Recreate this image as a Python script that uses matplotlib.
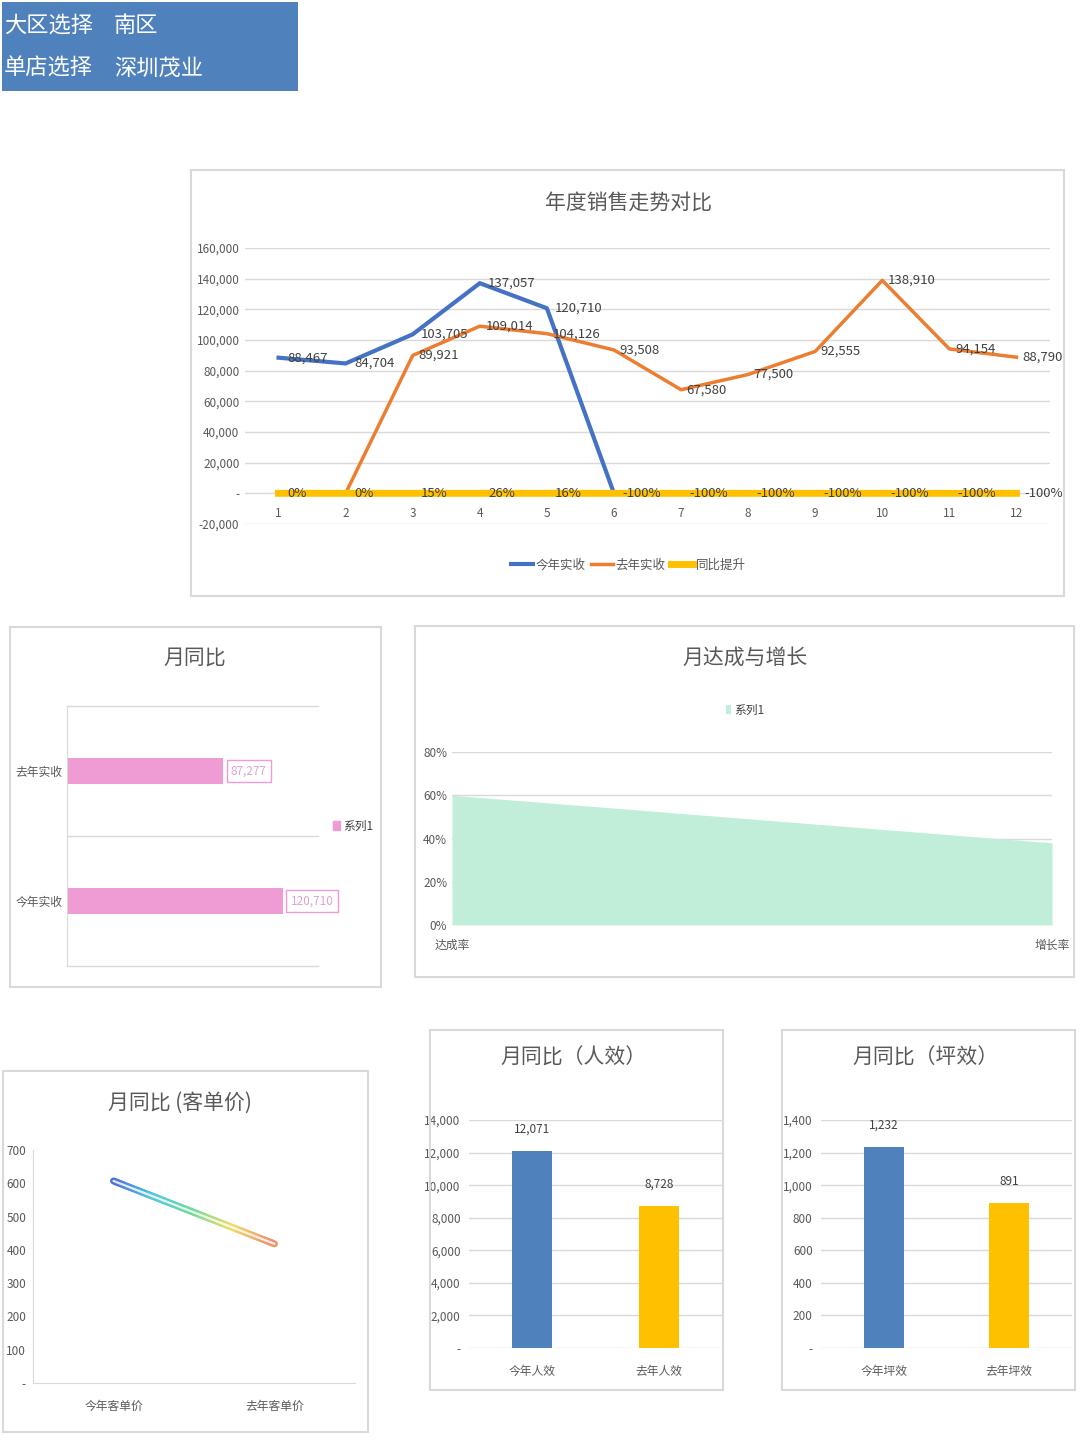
import numpy as np
import matplotlib
matplotlib.use("Agg")
import matplotlib.pyplot as plt
from matplotlib.patches import Rectangle, Patch
from matplotlib.collections import LineCollection
from matplotlib.colors import LinearSegmentedColormap
from matplotlib.ticker import FuncFormatter

plt.rcParams["font.family"] = ["Noto Sans CJK SC", "DejaVu Sans"]

# ---- data ----
header_rows = [("大区选择", "南区"), ("单店选择", "深圳茂业")]

months = [1, 2, 3, 4, 5, 6, 7, 8, 9, 10, 11, 12]
this_year = [88467, 84704, 103705, 137057, 120710, 0, 0, 0, 0, 0, 0, 0]
last_year = [0, 0, 89921, 109014, 104126, 93508, 67580, 77500, 92555, 138910, 94154, 88790]
yoy_growth = [0.0, 0.0, 0.15, 0.26, 0.16, -1, -1, -1, -1, -1, -1, -1]

rev_cats = ["今年实收", "去年实收"]
rev_vals = [120710, 87277]

rate_cats = ["达成率", "增长率"]
rate_vals = [0.60, 0.38]

price_cats = ["今年客单价", "去年客单价"]
price_vals = [607, 418]

staff_cats = ["今年人效", "去年人效"]
staff_vals = [12071, 8728]

area_cats = ["今年坪效", "去年坪效"]
area_vals = [1232, 891]

# ---- layout helpers (pixel boxes on a 1080x1443 canvas) ----
W, H = 1080, 1443
fig = plt.figure(figsize=(W / 100, H / 100), dpi=100)
fig.patch.set_facecolor("white")

GRID = "#D9D9D9"
TXT = "#595959"


def box(x0, y0, x1, y1):
    return [x0 / W, 1 - y1 / H, (x1 - x0) / W, (y1 - y0) / H]


def frame(x0, y0, x1, y1):
    fig.add_artist(Rectangle((x0 / W, 1 - y1 / H), (x1 - x0) / W, (y1 - y0) / H,
                             transform=fig.transFigure, fill=False, ec=GRID, lw=1.5))


def title(x, y, s, size=15):
    fig.text(x / W, 1 - y / H, s, ha="center", va="center", fontsize=size, color=TXT,
             fontweight="light")


def dash_zero(fmt):
    return FuncFormatter(lambda v, p: "-" if v == 0 else fmt.format(v))


def clean(ax):
    for s in ax.spines.values():
        s.set_visible(False)
    ax.tick_params(length=0, colors=TXT, labelsize=8.5)


# header block
fig.add_artist(Rectangle((2 / W, 1 - 91 / H), 296 / W, 89 / H, transform=fig.transFigure,
                         fc="#4F81BD", ec="none"))
for i, (k, v) in enumerate(header_rows):
    y = 1 - (25 + i * 43) / H
    fig.text(4 / W, y, k, color="white", fontsize=16, va="center", fontweight="light")
    fig.text(114 / W, y, v, color="white", fontsize=16, va="center", fontweight="light")

# ---- 年度销售走势对比 ----
frame(191, 170, 1064, 596)
title(628, 203, "年度销售走势对比")
ax1 = fig.add_axes(box(245, 248, 1050, 524))
ax1.plot(months, this_year, color="#4472C4", lw=3, label="今年实收", zorder=3)
ax1.plot(months, last_year, color="#ED7D31", lw=2.5, label="去年实收", zorder=3)
ax1.plot(months, yoy_growth, color="#FFC000", lw=5, label="同比提升", zorder=4)
ax1.set_xlim(0.5, 12.5)
ax1.set_ylim(-20000, 160000)
ax1.set_yticks(range(-20000, 160001, 20000))
ax1.yaxis.set_major_formatter(dash_zero("{:,.0f}"))
ax1.set_xticks(months)
ax1.grid(axis="y", color=GRID, lw=1)
ax1.set_axisbelow(True)
clean(ax1)
ax1.spines["bottom"].set_position(("data", 0))
ax1.tick_params(axis="x", pad=10)
ax1.tick_params(axis="y", pad=4)
for m, v in zip(months, this_year):
    if v:
        ax1.annotate(f"{v:,}", (m, v), xytext=(6, 0), textcoords="offset points",
                     va="center", fontsize=9.5, color="#404040", annotation_clip=False)
for m, v in zip(months, last_year):
    if v:
        ax1.annotate(f"{v:,}", (m, v), xytext=(4, 0), textcoords="offset points",
                     va="center", fontsize=9.5, color="#404040", annotation_clip=False)
for m, v in zip(months, yoy_growth):
    ax1.annotate(f"{v:.0%}", (m, v), xytext=(6, 0), textcoords="offset points",
                 va="center", fontsize=9.5, color="#404040", annotation_clip=False, zorder=5)
ax1.legend(loc="center", bbox_to_anchor=(628 / W, 1 - 565 / H), bbox_transform=fig.transFigure,
           ncol=3, frameon=False, fontsize=9, handlelength=1.8, handletextpad=0.2,
           columnspacing=0.4, labelcolor=TXT)

# ---- 月同比 ----
frame(10, 627, 381, 987)
title(195, 658, "月同比")
ax2 = fig.add_axes(box(67, 706, 318, 966))
ypos = np.arange(len(rev_cats))
ax2.barh(ypos, rev_vals, height=0.2, color="#F09CD4")
ax2.set_xlim(0, 140000)
ax2.set_ylim(-0.5, 1.5)
ax2.set_yticks(ypos)
ax2.set_yticklabels(rev_cats)
ax2.set_xticks([])
clean(ax2)
ax2.spines["left"].set_visible(True)
ax2.spines["left"].set_color(GRID)
for yy in (-0.5, 0.5, 1.5):
    ax2.axhline(yy, color=GRID, lw=1, clip_on=False)
for i, v in enumerate(rev_vals):
    ax2.text(v + 4000, i, f"{v:,}", va="center", ha="left", fontsize=8.5, color="#D9A6D2",
             bbox=dict(boxstyle="square,pad=0.35", fc="white", ec="#F09CD4", lw=1))
ax2.legend(handles=[Patch(color="#F09CD4")], labels=["系列1"], loc="center left",
           bbox_to_anchor=(322 / W, 1 - 826 / H), bbox_transform=fig.transFigure,
           frameon=False, fontsize=8.5, handlelength=0.6, handleheight=0.8,
           handletextpad=0.3, labelcolor="#404040")

# ---- 月达成与增长 ----
frame(415, 626, 1074, 977)
title(745, 658, "月达成与增长")
ax3 = fig.add_axes(box(452, 752, 1052, 925))
xr = np.arange(len(rate_cats))
ax3.fill_between(xr, rate_vals, color="#C1EED9", lw=0, label="系列1")
ax3.set_xlim(0, 1)
ax3.set_ylim(0, 0.8)
ax3.set_yticks(np.arange(0, 0.81, 0.2))
ax3.yaxis.set_major_formatter(FuncFormatter(lambda v, p: f"{v:.0%}"))
ax3.set_xticks(xr)
ax3.set_xticklabels(rate_cats)
ax3.grid(axis="y", color=GRID, lw=1)
ax3.set_axisbelow(True)
clean(ax3)
ax3.tick_params(axis="x", pad=10)
ax3.legend(loc="center", bbox_to_anchor=(745 / W, 1 - 710 / H), bbox_transform=fig.transFigure,
           frameon=False, fontsize=8.5, handlelength=0.4, handleheight=0.7,
           handletextpad=0.3, labelcolor="#404040")

# ---- 月同比 (客单价) ----
frame(3, 1071, 368, 1432)
title(180, 1103, "月同比 (客单价)")
ax4 = fig.add_axes(box(33, 1150, 355, 1383))
xp = np.arange(len(price_cats))
# colour gradient along the single segment (subdivided only for colouring)
t = np.linspace(0, 1, 60)
gx = xp[0] + (xp[1] - xp[0]) * t
gy = price_vals[0] + (price_vals[1] - price_vals[0]) * t
pts = np.column_stack([gx, gy]).reshape(-1, 1, 2)
segs = np.concatenate([pts[:-1], pts[1:]], axis=1)
cmap = LinearSegmentedColormap.from_list("rb", ["#4F6FD8", "#4FC8E0", "#6FDC9A", "#F2DC6A", "#F0906A"])
lc = LineCollection(segs, cmap=cmap, array=t[:-1], lw=5, capstyle="round")
ax4.add_collection(lc)
ax4.plot(xp, price_vals, color="white", lw=1.6, alpha=0.85, solid_capstyle="round")
ax4.set_xlim(-0.5, 1.5)
ax4.set_ylim(0, 700)
ax4.set_yticks(range(0, 701, 100))
ax4.yaxis.set_major_formatter(dash_zero("{:.0f}"))
ax4.set_xticks(xp)
ax4.set_xticklabels(price_cats)
clean(ax4)
for s in ("left", "bottom"):
    ax4.spines[s].set_visible(True)
    ax4.spines[s].set_color(GRID)
ax4.tick_params(axis="x", pad=12)
ax4.tick_params(axis="y", pad=5)


def column_panel(fx, cats, vals, ymax, step, ttl, tx):
    x0, x1 = fx
    frame(x0 - 39, 1030, x0 + 254, 1390)
    title(tx, 1058, ttl)
    ax = fig.add_axes(box(x0, 1120, x1, 1348))
    xc = np.arange(len(cats))
    ax.bar(xc, vals, width=0.32, color=["#4F81BD", "#FFC000"], zorder=3)
    ax.set_xlim(-0.5, 1.5)
    ax.set_ylim(0, ymax)
    ax.set_yticks(range(0, ymax + 1, step))
    ax.yaxis.set_major_formatter(dash_zero("{:,.0f}"))
    ax.set_xticks(xc)
    ax.set_xticklabels(cats)
    ax.grid(axis="y", color=GRID, lw=1)
    ax.set_axisbelow(True)
    clean(ax)
    ax.tick_params(axis="x", pad=12)
    ax.tick_params(axis="y", pad=6)
    for i, v in enumerate(vals):
        ax.annotate(f"{v:,}", (i, v), xytext=(0, 11), textcoords="offset points",
                    ha="center", va="bottom", fontsize=8.5, color="#404040")
    return ax


column_panel((469, 722), staff_cats, staff_vals, 14000, 2000, "月同比（人效）", 573)
column_panel((821, 1072), area_cats, area_vals, 1400, 200, "月同比（坪效）", 925)

fig.savefig("out.png", dpi=100, facecolor="white")
